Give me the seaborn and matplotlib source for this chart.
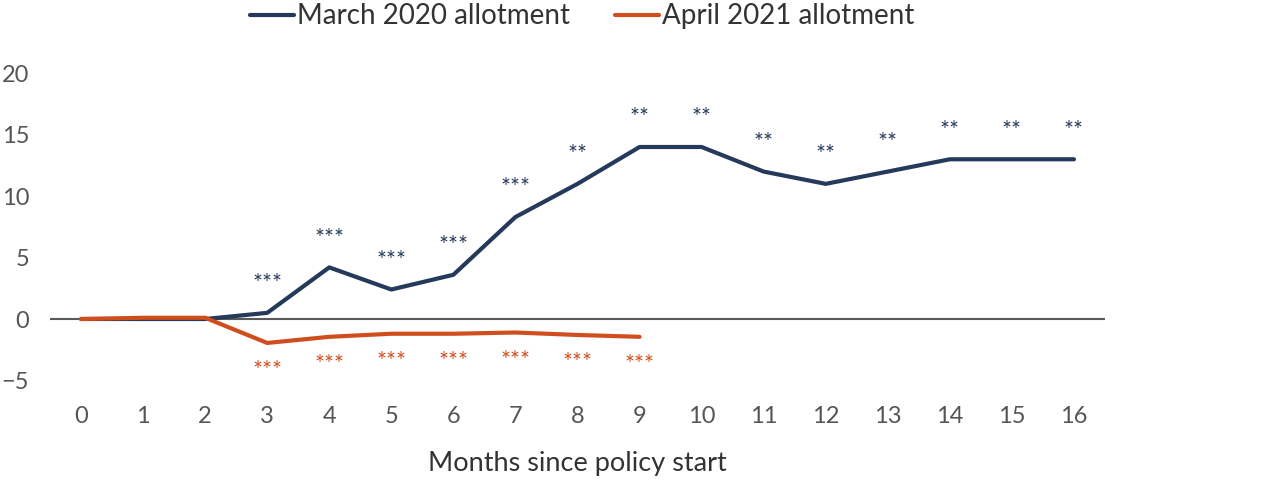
import matplotlib
matplotlib.use("Agg")
import matplotlib.pyplot as plt
import seaborn as sns
import pandas as pd

months = list(range(17))
march_2020 = [0, 0, 0, 0.5, 4.2, 2.4, 3.6, 8.3, 11.0, 14.0, 14.0, 12.0, 11.0, 12.0, 13.0, 13.0, 13.0]
march_sig = ["", "", "", "***", "***", "***", "***", "***", "**", "**", "**", "**", "**", "**", "**", "**", "**"]
april_months = list(range(10))
april_2021 = [0, 0.1, 0.1, -1.95, -1.45, -1.2, -1.2, -1.1, -1.3, -1.45]
april_sig = ["", "", "", "***", "***", "***", "***", "***", "***", "***"]
yticks = [-5, 0, 5, 10, 15, 20]

navy = "#253a5a"
orange = "#d04e1e"
gray = "#555555"

sns.set_theme(style="white")
plt.rcParams['font.family'] = ['Lato', 'DejaVu Sans']

df = pd.concat([
    pd.DataFrame({"month": months, "value": march_2020, "series": "March 2020 allotment"}),
    pd.DataFrame({"month": april_months, "value": april_2021, "series": "April 2021 allotment"}),
])

fig = plt.figure(figsize=(12.8, 4.84), dpi=100)
ax = fig.add_axes([50/1280, 1-405/484, (1105-50)/1280, (405-61)/484])
ax.axhline(0, color="#595959", lw=1.5, zorder=1)
sns.lineplot(data=df, x="month", y="value", hue="series",
             palette={"March 2020 allotment": navy, "April 2021 allotment": orange},
             linewidth=3, ax=ax, zorder=3)

for m, v, s in zip(months, march_2020, march_sig):
    if s:
        ax.annotate(s, (m, v), xytext=(0, 21), textcoords="offset points",
                    ha="center", va="center", color=navy, fontsize=17)
for m, v, s in zip(april_months, april_2021, april_sig):
    if s:
        ax.annotate(s, (m, v), xytext=(0, -20), textcoords="offset points",
                    ha="center", va="center", color=orange, fontsize=17)

ax.set_xlim(-0.5, 16.5)
ax.set_ylim(-7, 21)
ax.set_xticks(months)
ax.set_xticklabels([str(m) for m in months])
ax.set_yticks(yticks)
ax.set_yticklabels(["\u22125" if t < 0 else str(t) for t in yticks])
ax.tick_params(axis="both", labelsize=17, colors=gray, length=0)
ax.tick_params(axis="x", pad=1)
ax.tick_params(axis="y", pad=15)
ax.set_xlabel("Months since policy start", fontsize=19.5, color="#333333", labelpad=17)
ax.set_ylabel("")
for sp in ax.spines.values():
    sp.set_visible(False)

leg = ax.legend(loc="upper center", bbox_to_anchor=(532/1055, 1.24), ncol=2, frameon=False,
                fontsize=20, handlelength=1.6, handletextpad=0.1, columnspacing=1.6)
for t in leg.get_texts():
    t.set_color("#333333")

fig.savefig("out.png", dpi=100)
